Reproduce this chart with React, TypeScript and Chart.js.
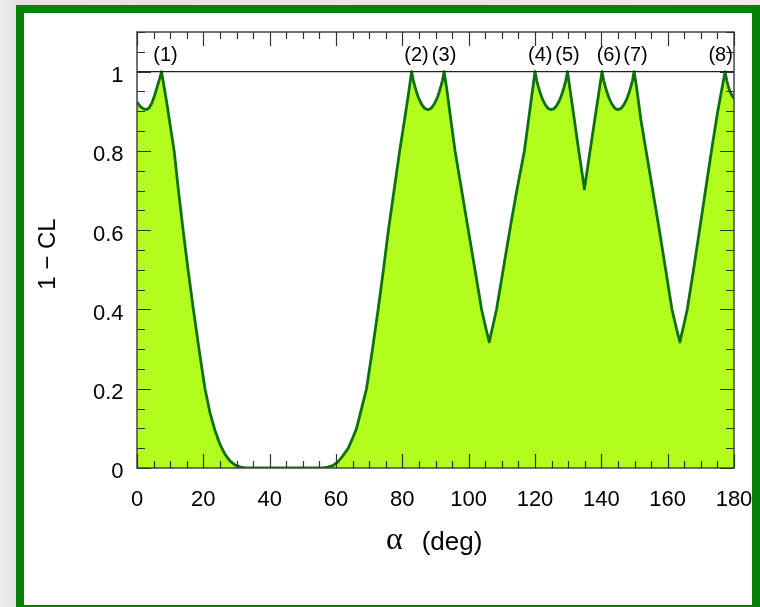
import React, { useEffect, useRef } from "react";
import { Chart, registerables } from "chart.js";

Chart.register(...registerables);

// alpha (deg) and 1 - CL values
const alphaDeg: number[] = [
  0, 1, 2, 2.8, 3.6, 4.5, 5.3, 6.1, 6.8, 7.4,
  8.0, 9.0, 10.0, 11.2, 12.5, 13.9, 15.4, 17.0, 18.7, 20.5,
  22.0, 23.5, 25.0, 26.5, 28.0, 29.5, 31.0, 32.5, 34, 56,
  57.5, 59, 60.5, 62, 63.7, 65, 66.2, 67.7, 69.2, 71.0,
  72.7, 74.3, 75.8, 77.5, 79.2, 80.5, 81.7, 82.8,
  83.3, 83.8, 84.3, 84.8, 85.3, 85.8, 86.3, 86.8, 87.7,
  88.6, 89.1, 89.6, 90.1, 90.6, 91.1, 91.6, 92.1, 92.6,
  93.5, 94.6, 95.9, 97.9, 99.9, 101.9, 103.9, 105.2, 106.2,
  107.2, 108.4, 110.4, 112.4, 114.5, 116.8, 118.4, 120.0,
  120.5, 121.0, 121.5, 122.0, 122.5, 123.0, 123.5, 124.0, 124.9,
  125.8, 126.3, 126.8, 127.3, 127.8, 128.3, 128.8, 129.3, 129.8,
  131.5, 133.2, 134.9, 136.6, 138.4, 140.2,
  140.7, 141.2, 141.7, 142.2, 142.7, 143.2, 143.7, 144.2, 145.0,
  145.9, 146.4, 146.9, 147.4, 147.9, 148.4, 148.9, 149.4, 149.9,
  150.8, 151.9, 153.5, 155.5, 157.5, 159.4, 161.3, 162.7, 163.7,
  164.7, 165.9, 167.8, 169.6, 171.4, 173.2, 175.1, 177.3,
  177.8, 178.3, 178.8, 179.4, 180,
];

const oneMinusCL: number[] = [
  0.923, 0.912, 0.906, 0.904, 0.908, 0.921, 0.94, 0.962, 0.982, 1.0,
  0.97, 0.92, 0.865, 0.8, 0.7, 0.6, 0.5, 0.4, 0.3, 0.2,
  0.14, 0.095, 0.06, 0.035, 0.018, 0.008, 0.003, 0.0005, 0, 0,
  0.002, 0.006, 0.015, 0.03, 0.05, 0.075, 0.1, 0.15, 0.2, 0.3,
  0.4, 0.5, 0.6, 0.7, 0.8, 0.87, 0.935, 1.0,
  0.978, 0.962, 0.948, 0.936, 0.926, 0.918, 0.912, 0.907, 0.904,
  0.907, 0.912, 0.918, 0.926, 0.936, 0.948, 0.962, 0.978, 1.0,
  0.95, 0.88, 0.8, 0.7, 0.6, 0.5, 0.4, 0.352, 0.318,
  0.355, 0.4, 0.5, 0.6, 0.7, 0.8, 0.9, 1.0,
  0.978, 0.962, 0.948, 0.936, 0.926, 0.918, 0.912, 0.907, 0.904,
  0.907, 0.912, 0.918, 0.926, 0.936, 0.948, 0.962, 0.978, 1.0,
  0.9, 0.8, 0.704, 0.8, 0.9, 1.0,
  0.978, 0.962, 0.948, 0.936, 0.926, 0.918, 0.912, 0.907, 0.904,
  0.907, 0.912, 0.918, 0.926, 0.936, 0.948, 0.962, 0.978, 1.0,
  0.95, 0.88, 0.8, 0.7, 0.6, 0.5, 0.4, 0.35, 0.318,
  0.355, 0.4, 0.5, 0.6, 0.7, 0.8, 0.9, 1.0,
  0.978, 0.962, 0.95, 0.94, 0.932,
];

const xTickLabels: number[] = [0, 20, 40, 60, 80, 100, 120, 140, 160, 180];
const yTickLabels: string[] = ["0", "0.2", "0.4", "0.6", "0.8", "1"];
const yTickValues: number[] = [0, 0.2, 0.4, 0.6, 0.8, 1];

const peakLabels: string[] = ["(1)", "(2)", "(3)", "(4)", "(5)", "(6)", "(7)", "(8)"];
const peakLabelX: number[] = [4.9, 80.6, 88.9, 117.9, 126.1, 138.6, 146.6, 172.3];

const X_MIN = 0, X_MAX = 180, Y_MIN = 0, Y_MAX = 1.1;

const SANS = '"Liberation Sans", Arial, Helvetica, sans-serif';

const framePlugin = {
  id: "rootFrame",
  afterDatasetsDraw(chart: any) {
    const ctx = chart.ctx as CanvasRenderingContext2D;
    const { left, right, top, bottom } = chart.chartArea;
    const xs = chart.scales.x;
    const ys = chart.scales.y;
    ctx.save();

    // line at 1 - CL = 1
    const y1 = ys.getPixelForValue(1);
    ctx.strokeStyle = "#222";
    ctx.lineWidth = 1.3;
    ctx.beginPath();
    ctx.moveTo(left, y1);
    ctx.lineTo(right, y1);
    ctx.stroke();

    // frame
    ctx.strokeStyle = "#444";
    ctx.lineWidth = 1.5;
    ctx.strokeRect(left, top, right - left, bottom - top);

    // ticks
    ctx.strokeStyle = "#333";
    ctx.lineWidth = 1.2;
    ctx.beginPath();
    for (let v = X_MIN; v <= X_MAX + 1e-9; v += 5) {
      const px = Math.round(xs.getPixelForValue(v)) + 0.5;
      const len = Math.abs(v % 20) < 1e-6 ? 14 : 7;
      ctx.moveTo(px, bottom);
      ctx.lineTo(px, bottom - len);
      ctx.moveTo(px, top);
      ctx.lineTo(px, top + len);
    }
    for (let i = 0; i <= 22; i++) {
      const v = i * 0.05;
      const py = Math.round(ys.getPixelForValue(v)) + 0.5;
      const len = i % 4 === 0 ? 14 : 8;
      ctx.moveTo(left, py);
      ctx.lineTo(left + len, py);
      ctx.moveTo(right, py);
      ctx.lineTo(right - len, py);
    }
    ctx.stroke();

    // tick labels
    ctx.fillStyle = "#000";
    ctx.font = `22px ${SANS}`;
    ctx.textAlign = "center";
    ctx.textBaseline = "alphabetic";
    xTickLabels.forEach((v) => {
      ctx.fillText(String(v), xs.getPixelForValue(v), bottom + 37.5);
    });
    ctx.textAlign = "right";
    yTickValues.forEach((v, i) => {
      ctx.fillText(yTickLabels[i], left - 13.5, ys.getPixelForValue(v) + 10.4);
    });

    // peak labels
    ctx.font = `20px ${SANS}`;
    ctx.textAlign = "left";
    peakLabels.forEach((t, i) => {
      ctx.fillText(t, xs.getPixelForValue(peakLabelX[i]), top + 29);
    });

    // axis titles
    ctx.font = `32px "Liberation Serif", "DejaVu Serif", serif`;
    ctx.textAlign = "left";
    ctx.fillText("α", left + 249, bottom + 80.5);
    ctx.font = `26px ${SANS}`;
    ctx.fillText("(deg)", left + 284.7, bottom + 81.5);

    ctx.save();
    ctx.translate(left - 82, (top + bottom) / 2 + 4);
    ctx.rotate(-Math.PI / 2);
    ctx.textAlign = "center";
    ctx.font = `24px ${SANS}`;
    ctx.fillText("1 \u2212 CL", 0, 0);
    ctx.restore();

    ctx.restore();
  },
};

export default function App() {
  const canvasRef = useRef<HTMLCanvasElement | null>(null);

  useEffect(() => {
    const canvas = canvasRef.current;
    if (!canvas) return;
    const points = alphaDeg.map((a, i) => ({ x: a, y: oneMinusCL[i] }));
    const chart = new Chart(canvas, {
      type: "line",
      data: {
        datasets: [
          {
            data: points,
            borderColor: "#0f700f",
            borderWidth: 2.8,
            backgroundColor: "#b2fc1e",
            fill: "origin",
            tension: 0,
            pointRadius: 0,
            borderJoinStyle: "round",
          },
        ],
      },
      options: {
        responsive: false,
        animation: false,
        parsing: false,
        layout: { padding: { left: 113, top: 19, right: 18, bottom: 137 } },
        plugins: { legend: { display: false }, tooltip: { enabled: false } },
        events: [],
        scales: {
          x: { type: "linear", min: X_MIN, max: X_MAX, display: false },
          y: { type: "linear", min: Y_MIN, max: Y_MAX, display: false },
        },
      },
      plugins: [framePlugin],
    });
    return () => chart.destroy();
  }, []);

  return (
    <div
      style={{
        position: "fixed",
        left: 0,
        top: 0,
        width: 760,
        height: 607,
        overflow: "hidden",
        background: "linear-gradient(to right, #eeeeee 0px, #e2e2e2 16px, #ececec 100%)",
      }}
    >
      <div
        style={{
          position: "absolute",
          left: 16,
          top: 5,
          width: 728,
          height: 592,
          border: "8px solid #078207",
          background: "#fff",
        }}
      >
        <canvas
          ref={canvasRef}
          width={728}
          height={592}
          style={{ display: "block", width: 728, height: 592 }}
        />
      </div>
    </div>
  );
}
